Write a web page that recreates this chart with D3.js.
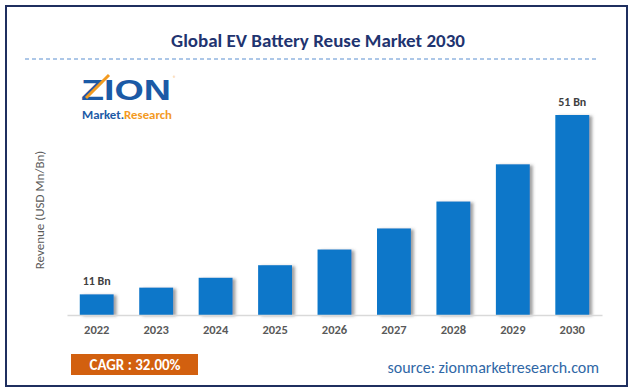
<!DOCTYPE html>
<html>
<head>
<meta charset="utf-8">
<script src="https://cdn.jsdelivr.net/npm/d3@7"></script>
<style>
  body { margin: 0; background: #fff; }
  svg { display: block; }
</style>
</head>
<body>
<script>
var width = 635
var height = 392

// data
var years = ['2022', '2023', '2024', '2025', '2026', '2027', '2028', '2029', '2030']
var revenue = [11, 12.5, 14.7, 17.5, 21.0, 25.7, 31.7, 40.0, 51]
var valueLabels = ['11 Bn', '', '', '', '', '', '', '', '51 Bn']
var cagrText = 'CAGR : 32.00%'

var font = 'Carlito, "Open Sans", "Liberation Sans", sans-serif'

var svg = d3.select('body')
            .append('svg')
            .attr('width', width)
            .attr('height', height)

var defs = svg.append('defs')
defs.append('filter')
    .attr('id', 'shadow')
    .attr('x', '-20%').attr('y', '-10%')
    .attr('width', '150%').attr('height', '130%')
    .append('feDropShadow')
    .attr('dx', 3).attr('dy', 1)
    .attr('stdDeviation', 1.6)
    .attr('flood-color', '#555')
    .attr('flood-opacity', 0.55)

// frame
svg.append('rect')
   .attr('x', 6).attr('y', 6)
   .attr('width', 621).attr('height', 380)
   .attr('fill', 'none')
   .attr('stroke', '#1f2f5f')
   .attr('stroke-width', 2)

// title
svg.append('text')
   .attr('x', 318)
   .attr('y', 47)
   .attr('text-anchor', 'middle')
   .attr('font-family', font)
   .attr('font-weight', 'bold')
   .attr('font-size', '19px')
   .attr('fill', '#1f3470')
   .text('Global EV Battery Reuse Market 2030')

svg.append('line')
   .attr('x1', 25).attr('x2', 597)
   .attr('y1', 59).attr('y2', 59)
   .attr('stroke', '#5b8fd0')
   .attr('stroke-width', 1)
   .attr('stroke-dasharray', '4,3')

// logo
var logo = svg.append('g')
logo.append('text')
    .attr('x', 81).attr('y', 100)
    .attr('font-family', '"Liberation Sans", sans-serif')
    .attr('font-weight', 'bold')
    .attr('font-size', '29px')
    .attr('fill', '#1b5aa6')
    .attr('textLength', 90)
    .attr('lengthAdjust', 'spacingAndGlyphs')
    .text('ZION')
logo.append('line')
    .attr('x1', 86).attr('y1', 98)
    .attr('x2', 109).attr('y2', 75)
    .attr('stroke', '#f39a1f')
    .attr('stroke-width', 3)
logo.append('text')
    .attr('x', 173).attr('y', 80)
    .attr('font-family', font)
    .attr('font-size', '6px')
    .attr('fill', '#f39a1f')
    .text('®')
var sub = logo.append('text')
    .attr('x', 82).attr('y', 119)
    .attr('font-family', font)
    .attr('font-weight', 'bold')
    .attr('font-size', '12px')
    .attr('textLength', 90)
    .attr('lengthAdjust', 'spacingAndGlyphs')
sub.append('tspan').attr('fill', '#1b5aa6').text('Market.')
sub.append('tspan').attr('fill', '#f39a1f').text('Research')

// scales
var x = d3.scaleBand()
          .domain(years)
          .range([67, 602])
          .paddingInner(0.43)
          .paddingOuter(0.215)

var y = d3.scaleLinear()
          .domain([6.4, 51])
          .range([315, 115])

// y label
svg.append('text')
   .attr('transform', 'translate(44,210) rotate(-90)')
   .attr('text-anchor', 'middle')
   .attr('font-family', font)
   .attr('font-size', '13px')
   .attr('fill', '#595959')
   .text('Revenue (USD Mn/Bn)')

// bars
var group = svg.selectAll('g.bar')
               .data(revenue)
               .enter().append('g')
               .attr('class', 'bar')

group.append('rect')
     .attr('x', function(d, i){ return x(years[i]) })
     .attr('y', function(d){ return y(d) })
     .attr('width', x.bandwidth())
     .attr('height', function(d){ return y(y.domain()[0]) - y(d) })
     .attr('fill', '#0a77c9')
     .attr('filter', 'url(#shadow)')

group.append('text')
     .attr('x', function(d, i){ return x(years[i]) + x.bandwidth() / 2 })
     .attr('y', function(d){ return y(d) - 9 })
     .attr('text-anchor', 'middle')
     .attr('font-family', font)
     .attr('font-weight', 'bold')
     .attr('font-size', '12px')
     .attr('fill', '#404040')
     .text(function(d, i){ return valueLabels[i] })

// x axis
var xAxis = svg.append('g')
   .attr('transform', 'translate(0,315)')
   .call(d3.axisBottom(x).tickSize(0).tickPadding(10))
xAxis.select('.domain')
     .attr('stroke', '#d9d9d9')
     .attr('stroke-width', 1.5)
xAxis.selectAll('text')
     .attr('font-family', font)
     .attr('font-weight', 'bold')
     .attr('font-size', '12.5px')
     .attr('fill', '#595959')

// CAGR box
svg.append('rect')
   .attr('x', 71).attr('y', 354)
   .attr('width', 127).attr('height', 21)
   .attr('fill', '#d2600f')
svg.append('text')
   .attr('x', 135).attr('y', 370)
   .attr('text-anchor', 'middle')
   .attr('font-family', font)
   .attr('font-weight', 'bold')
   .attr('font-size', '15px')
   .attr('fill', '#ffffff')
   .text(cagrText)

// source
svg.append('text')
   .attr('x', 599).attr('y', 373)
   .attr('text-anchor', 'end')
   .attr('font-family', font)
   .attr('font-size', '16px')
   .attr('fill', '#2f67a6')
   .text('source: zionmarketresearch.com')
</script>
</body>
</html>
